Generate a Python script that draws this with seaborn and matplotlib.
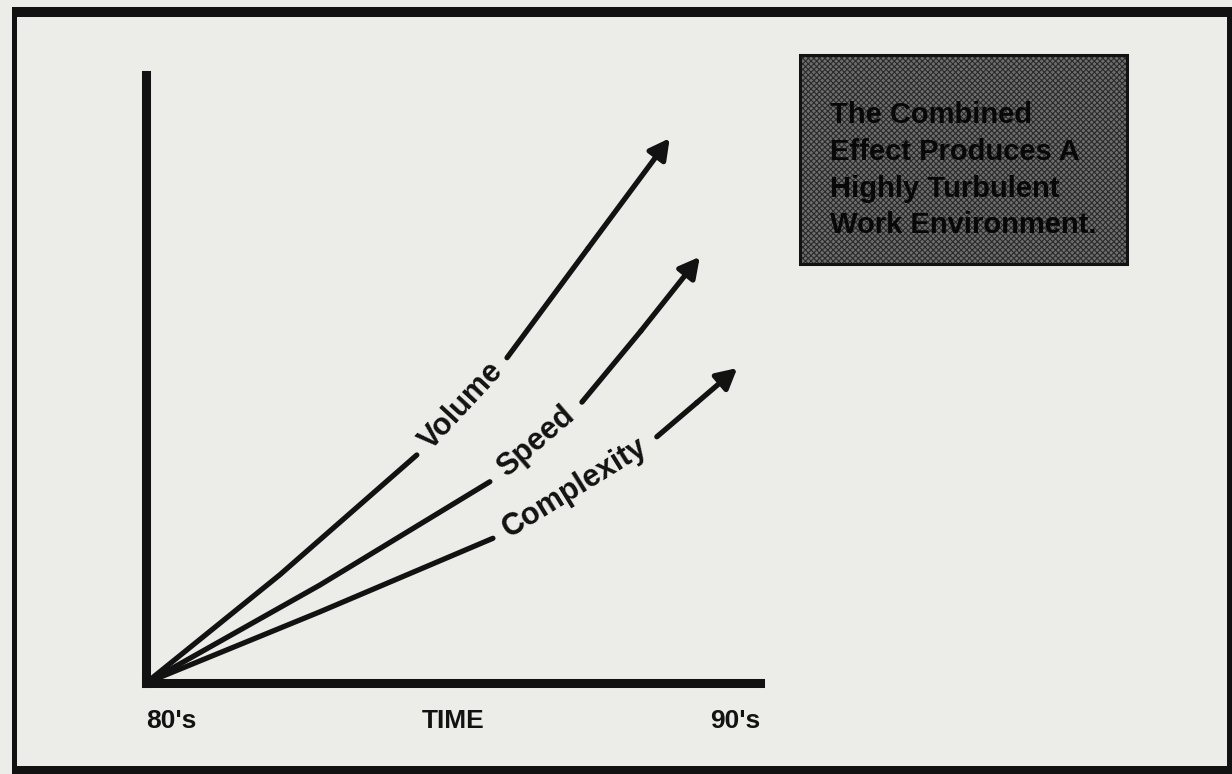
import numpy as np
import pandas as pd
import matplotlib
matplotlib.use("Agg")
import matplotlib.pyplot as plt
from matplotlib.patches import Rectangle
import seaborn as sns

# Time axis runs from the 80's (0) to the 90's (10); growth level on the vertical axis.
tick_positions = [0, 5, 10]
tick_labels = ["80's", "TIME", "90's"]

series_names = ["Volume", "Speed", "Complexity"]

# Each series is split where its name is written along the curve:
# points before the gap, then points after it (the last one is the arrow tip).
volume_lower_x = [0.0, 2.18, 4.41]
volume_lower_y = [0.0, 1.78, 3.75]
volume_upper_x = [5.88, 7.20, 8.53]
volume_upper_y = [5.35, 7.15, 8.96]

speed_lower_x = [0.0, 2.83, 5.60]
speed_lower_y = [0.0, 1.61, 3.31]
speed_upper_x = [7.10, 8.06, 9.02]
speed_upper_y = [4.62, 5.79, 7.01]

complexity_lower_x = [0.0, 2.83, 5.65]
complexity_lower_y = [0.0, 1.17, 2.38]
complexity_upper_x = [8.32, 8.97, 9.63]
complexity_upper_y = [4.05, 4.61, 5.18]

callout_text = "The Combined\nEffect Produces A\nHighly Turbulent\nWork Environment."

sns.set_style("white")
plt.rcParams["font.family"] = ["Liberation Sans", "DejaVu Sans"]
plt.rcParams["font.weight"] = "bold"
plt.rcParams["hatch.linewidth"] = 0.8

PAPER = "#ecece8"
INK = "#121212"

fig = plt.figure(figsize=(12.32, 7.74), dpi=100, facecolor=PAPER)
W, H = 1232.0, 774.0


def fx(px):
    return px / W


def fy(py):
    return 1.0 - py / H


ax = fig.add_axes([fx(146), fy(683), fx(760) - fx(146), fy(75) - fy(683)])
ax.set_facecolor("none")
ax.set_xlim(0, 10)
ax.set_ylim(0, 10)

curves = {
    "Volume": (volume_lower_x, volume_lower_y, volume_upper_x, volume_upper_y),
    "Speed": (speed_lower_x, speed_lower_y, speed_upper_x, speed_upper_y),
    "Complexity": (complexity_lower_x, complexity_lower_y, complexity_upper_x, complexity_upper_y),
}

rows = []
for name in series_names:
    lx, ly, ux, uy = curves[name]
    for x, y in zip(lx, ly):
        rows.append({"series": name, "part": name + "-lower", "x": x, "y": y})
    # the final point is reached by the arrow
    for x, y in zip(ux[:-1], uy[:-1]):
        rows.append({"series": name, "part": name + "-upper", "x": x, "y": y})
df = pd.DataFrame(rows)

sns.lineplot(data=df, x="x", y="y", units="part", estimator=None, sort=False,
             color=INK, linewidth=3.8, ax=ax, legend=False)
for line in ax.lines:
    line.set_solid_capstyle("round")
    line.set_solid_joinstyle("round")

fig.canvas.draw()
for name in series_names:
    lx, ly, ux, uy = curves[name]
    # arrow head at the end of each curve
    ax.annotate("", xy=(ux[-1], uy[-1]), xytext=(ux[-2], uy[-2]),
                arrowprops=dict(arrowstyle="-|>,head_length=0.45,head_width=0.24",
                                color=INK, lw=3.8, capstyle="round",
                                mutation_scale=27, shrinkA=0, shrinkB=0))
    # curve name written in the gap, following its direction
    p0 = ax.transData.transform((lx[-1], ly[-1]))
    p1 = ax.transData.transform((ux[0], uy[0]))
    angle = np.degrees(np.arctan2(p1[1] - p0[1], p1[0] - p0[0]))
    cx = (lx[-1] + ux[0]) / 2
    cy = (ly[-1] + uy[0]) / 2
    ax.text(cx, cy, name, rotation=angle, rotation_mode="anchor",
            ha="center", va="center", fontsize=22, fontweight="bold", color=INK)

# axes drawn as heavy strokes on the left and bottom only
for side in ["top", "right"]:
    ax.spines[side].set_visible(False)
for side in ["left", "bottom"]:
    ax.spines[side].set_linewidth(6.5)
    ax.spines[side].set_color(INK)
ax.set_yticks([])
ax.set_xticks(tick_positions)
ax.set_xticklabels(tick_labels, fontsize=19, fontweight="bold", color=INK)
for lbl, ha in zip(ax.get_xticklabels(), ["left", "center", "right"]):
    lbl.set_horizontalalignment(ha)
ax.tick_params(axis="x", length=0, pad=19)
ax.set_xlabel("")
ax.set_ylabel("")

# shaded call-out box
box_x0, box_y0, box_x1, box_y1 = 800, 55, 1127, 264
fig.patches.append(Rectangle((fx(box_x0), fy(box_y1)), fx(box_x1) - fx(box_x0),
                             fy(box_y0) - fy(box_y1), transform=fig.transFigure,
                             facecolor="#6e6e6e", edgecolor="#2a2a2a", hatch="xxxxxx",
                             linewidth=0, zorder=1))
fig.patches.append(Rectangle((fx(box_x0), fy(box_y1)), fx(box_x1) - fx(box_x0),
                             fy(box_y0) - fy(box_y1), transform=fig.transFigure,
                             facecolor="none", edgecolor=INK, linewidth=2.2, zorder=2))
fig.text(fx(830), fy(101), callout_text, ha="left", va="top", fontsize=21,
         fontweight="bold", color="#080808", linespacing=1.40, zorder=3)

# page frame
frame_parts = [
    (12, 7, 1232, 17),
    (12, 7, 17, 774),
    (12, 766, 1232, 774),
    (1227, 7, 1232, 774),
]
for x0, y0, x1, y1 in frame_parts:
    fig.patches.append(Rectangle((fx(x0), fy(y1)), fx(x1) - fx(x0), fy(y0) - fy(y1),
                                 transform=fig.transFigure, facecolor=INK,
                                 edgecolor="none", zorder=4))

fig.savefig("out.png", dpi=100, facecolor=PAPER)
